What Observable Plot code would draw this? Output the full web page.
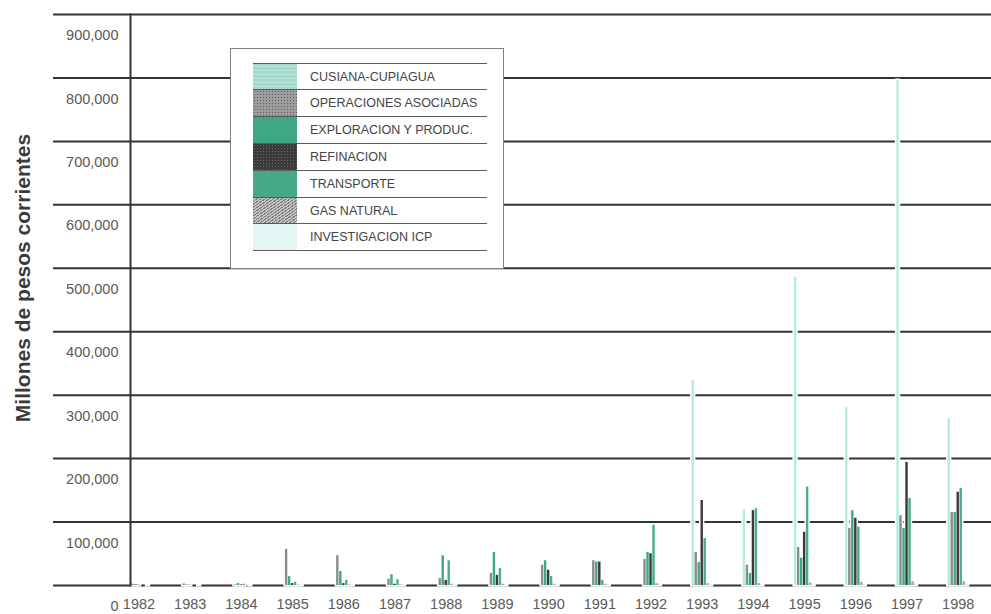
<!DOCTYPE html>
<html>
<head>
<meta charset="utf-8">
<script src="https://cdn.jsdelivr.net/npm/d3@7"></script>
<script src="https://cdn.jsdelivr.net/npm/@observablehq/plot@0.6"></script>
<style>
html,body{margin:0;padding:0;background:#fff;}
#wrap{position:relative;width:991px;height:614px;font-family:"Liberation Sans",Arial,sans-serif;}
#legend{position:absolute;left:230px;top:48px;width:274px;height:221px;background:#fff;border:1px solid #808080;box-sizing:border-box;}
#legend .row{position:absolute;left:22px;width:234px;height:27px;border-top:1px solid #5a5a5a;box-sizing:border-box;}
#legend .sw{position:absolute;left:0;top:0;width:44px;height:26px;}
#legend .lab{position:absolute;left:57px;top:0;height:26px;line-height:27px;font-size:12.5px;color:#444;white-space:nowrap;}
#legend .end{position:absolute;left:22px;width:234px;border-top:1px solid #5a5a5a;}
</style>
</head>
<body>
<div id="wrap"></div>
<script>
// ---- data (values in millones de pesos corrientes) ----
const years = [1982,1983,1984,1985,1986,1987,1988,1989,1990,1991,1992,1993,1994,1995,1996,1997,1998];
const series = ["CUSIANA-CUPIAGUA","OPERACIONES ASOCIADAS","EXPLORACION Y PRODUC.","REFINACION","TRANSPORTE","GAS NATURAL","INVESTIGACION ICP"];
const cusiana     = [0,0,0,0,0,0,0,0,0,0,0,323000,120000,486000,281000,796000,263000];
const operaciones = [2000,2500,1000,57000,47000,10000,11000,19000,32000,39000,41000,52000,32000,60000,90000,110000,115000];
const exploracion = [1500,1000,3000,14000,22000,17000,47000,52000,39000,37000,52000,36000,19000,43000,118000,90000,115000];
const refinacion  = [500,500,1000,3000,3000,2000,8000,16000,24000,37000,50000,134000,118000,84000,106000,194000,147000];
const transporte  = [0,0,2000,5000,8000,9000,39000,27000,14000,8000,95000,74000,121000,155000,92000,137000,153000];
const gasNatural  = [0,0,0,1000,1000,1000,2000,2000,2000,2000,3000,3000,3000,4000,5000,6000,6000];
const icp         = [500,500,500,1000,1000,1000,1000,1500,1500,1500,2000,2000,2000,2500,2500,3000,3000];
const yTicks = [0,100000,200000,300000,400000,500000,600000,700000,800000,900000];
const yTitle = "Millones de pesos corrientes";

// ---- styles ----
const barColors = ["#b4ece3","#8c8c8c","#3daa85","#3a3a3a","#46ae8a","#a6a6a6","#d8f4f0"];
const swatchCss = [
  "repeating-linear-gradient(0deg,#a3dccf 0 3px,#bde8de 3px 4px)",
  "radial-gradient(circle,#5e5e5e 0.6px,transparent 0.8px) 0 0/3px 3px,#9c9c9c",
  "#3ea886",
  "radial-gradient(circle,#6a6a6a 0.7px,transparent 0.9px) 0 0/3px 3px,#3a3a3a",
  "#45a887",
  "repeating-linear-gradient(-35deg,#7e7e7e 0 1px,#c6c6c6 1px 2.4px)",
  "#e3f6f4"
];

const valuesBySeries = [cusiana, operaciones, exploracion, refinacion, transporte, gasNatural, icp];
const rows = years.flatMap((yr, j) => series.map((s, i) => ({year: yr, series: s, idx: i, value: valuesBySeries[i][j]})));
const nonzero = rows.filter(d => d.value > 0);

const step = 0.0586, bw = 0.047;
const X1 = d => d.year + (d.idx - 3) * step - bw / 2;
const X2 = d => d.year + (d.idx - 3) * step + bw / 2;

const chart = Plot.plot({
  width: 991,
  height: 614,
  marginLeft: 130,
  marginRight: 0,
  marginTop: 14,
  marginBottom: 29,
  style: {fontFamily: "'Liberation Sans', Arial, sans-serif", background: "#fff", overflow: "visible"},
  x: {domain: [1981.834, 1998.65], axis: null},
  y: {domain: [0, 900000], axis: null, label: null},
  color: {domain: series, range: barColors},
  marks: [
    Plot.ruleY(yTicks, {stroke: "#333", strokeWidth: 2}),
    Plot.axisY(yTicks, {tickSize: 77, fill: "none", stroke: "#333", strokeWidth: 2, label: null}),
    Plot.axisY(yTicks, {tickSize: 0, tickPadding: 12, dy: 21, fill: "#5a5a5a", fontSize: 14.5, tickFormat: d3.format(","), label: null}),
    Plot.axisX(years, {tickSize: 0, tickPadding: 13, fill: "#5a5a5a", fontSize: 14.5, tickFormat: d => String(d), label: null}),
    Plot.rectY(nonzero, {x1: X1, x2: X2, y: "value", fill: "white", stroke: "white", strokeWidth: 3}),
    Plot.rectY(nonzero, {x1: X1, x2: X2, y: "value", fill: "series"}),
    Plot.frame({anchor: "left", stroke: "#333", strokeWidth: 2}),
    Plot.text([yTitle], {frameAnchor: "left", textAnchor: "middle", dx: -107, dy: -22, rotate: -90, fontSize: 21, fontWeight: "bold", fill: "#3a3a3a"})
  ]
});

const wrap = document.getElementById("wrap");
wrap.appendChild(chart);

// legend overlay
const legend = document.createElement("div");
legend.id = "legend";
series.forEach((s, i) => {
  const r = document.createElement("div");
  r.className = "row";
  r.style.top = (13.5 + i * 26.8) + "px";
  const sw = document.createElement("div");
  sw.className = "sw";
  sw.style.background = swatchCss[i];
  const lab = document.createElement("div");
  lab.className = "lab";
  lab.textContent = s;
  r.appendChild(sw);
  r.appendChild(lab);
  legend.appendChild(r);
});
const end = document.createElement("div");
end.className = "end";
end.style.top = (13.5 + series.length * 26.8) + "px";
legend.appendChild(end);
wrap.appendChild(legend);
</script>
</body>
</html>
